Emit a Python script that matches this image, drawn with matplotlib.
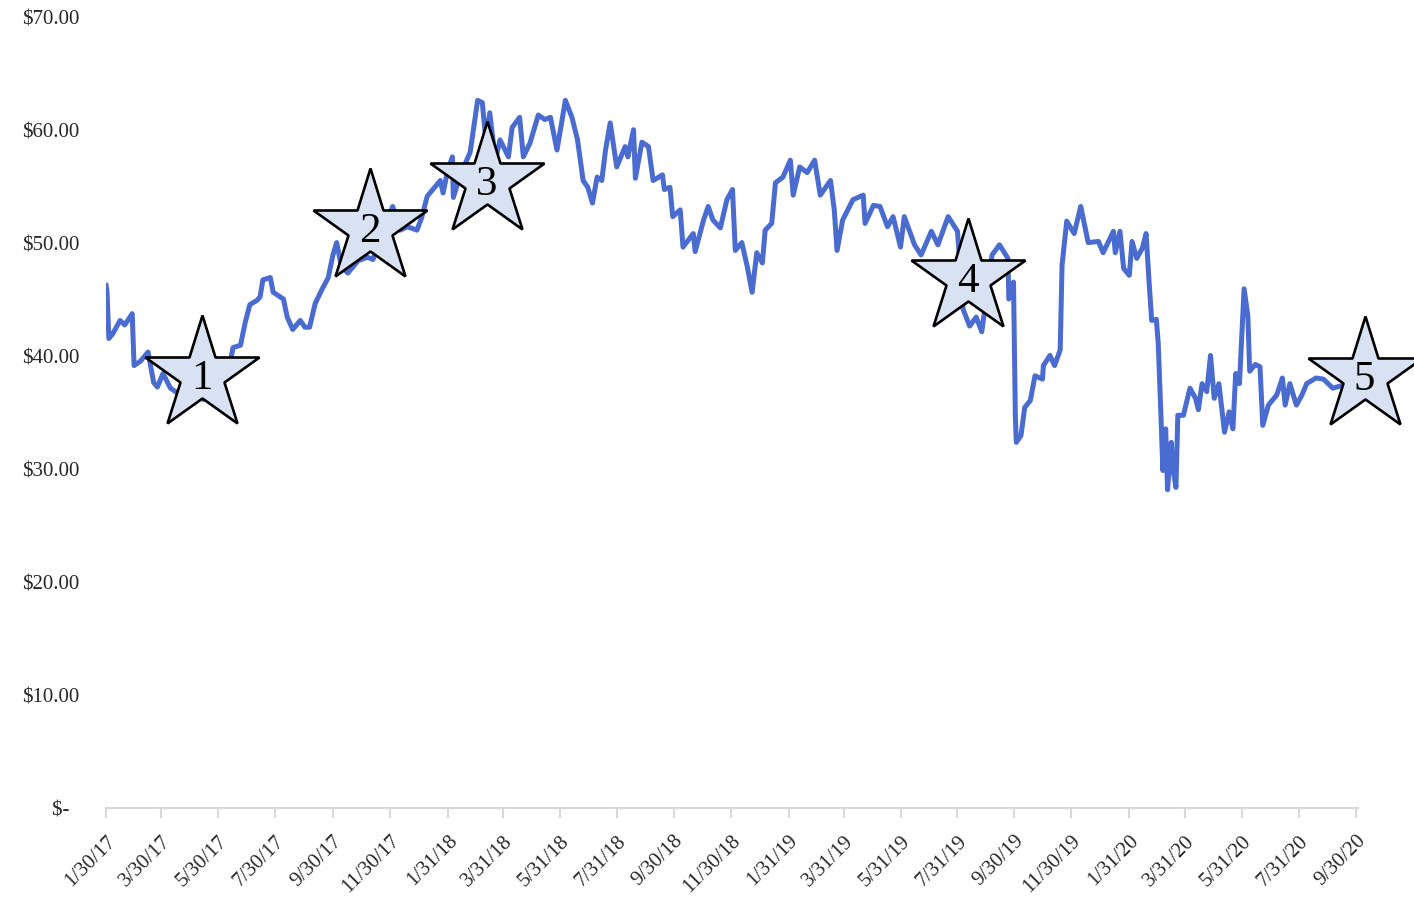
import matplotlib
matplotlib.use("Agg")
import matplotlib.pyplot as plt
from matplotlib.ticker import FuncFormatter
import pandas as pd

dates = [
    "2017-01-30", "2017-01-31", "2017-02-02", "2017-02-06", "2017-02-14", "2017-02-19", "2017-02-27",
    "2017-03-01", "2017-03-08", "2017-03-16", "2017-03-22", "2017-03-26", "2017-04-01", "2017-04-09",
    "2017-04-16", "2017-04-30", "2017-05-14", "2017-05-27", "2017-06-09", "2017-06-15", "2017-06-23",
    "2017-06-28", "2017-07-03", "2017-07-11", "2017-07-14", "2017-07-17", "2017-07-25", "2017-07-28",
    "2017-08-08", "2017-08-12", "2017-08-18", "2017-08-26", "2017-08-31", "2017-09-05", "2017-09-11",
    "2017-09-18", "2017-09-25", "2017-09-30", "2017-10-04", "2017-10-09", "2017-10-16", "2017-10-27",
    "2017-11-06", "2017-11-12", "2017-11-19", "2017-11-27", "2017-12-03", "2017-12-11", "2017-12-19",
    "2017-12-29", "2018-01-03", "2018-01-09", "2018-01-15", "2018-01-23", "2018-01-26", "2018-01-31",
    "2018-02-05", "2018-02-06", "2018-02-13", "2018-02-24", "2018-03-04", "2018-03-09", "2018-03-13",
    "2018-03-17", "2018-03-23", "2018-03-28", "2018-04-06", "2018-04-10", "2018-04-18", "2018-04-22",
    "2018-04-29", "2018-05-08", "2018-05-15", "2018-05-21", "2018-05-28", "2018-06-06", "2018-06-13",
    "2018-06-19", "2018-06-25", "2018-06-30", "2018-07-05", "2018-07-10", "2018-07-15", "2018-07-19",
    "2018-07-24", "2018-07-31", "2018-08-09", "2018-08-12", "2018-08-18", "2018-08-20", "2018-08-27",
    "2018-09-03", "2018-09-08", "2018-09-18", "2018-09-20", "2018-09-26", "2018-09-29", "2018-10-07",
    "2018-10-10", "2018-10-21", "2018-10-23", "2018-11-01", "2018-11-06", "2018-11-11", "2018-11-19",
    "2018-11-26", "2018-12-02", "2018-12-05", "2018-12-12", "2018-12-18", "2018-12-23", "2018-12-28",
    "2019-01-03", "2019-01-06", "2019-01-13", "2019-01-17", "2019-01-25", "2019-02-02", "2019-02-05",
    "2019-02-12", "2019-02-20", "2019-02-28", "2019-03-06", "2019-03-17", "2019-03-21", "2019-03-24",
    "2019-03-30", "2019-04-10", "2019-04-21", "2019-04-23", "2019-05-02", "2019-05-09", "2019-05-17",
    "2019-05-23", "2019-05-31", "2019-06-04", "2019-06-15", "2019-06-22", "2019-07-03", "2019-07-10",
    "2019-07-21", "2019-07-31", "2019-08-06", "2019-08-13", "2019-08-20", "2019-08-26", "2019-09-06",
    "2019-09-14", "2019-09-23", "2019-09-24", "2019-09-29", "2019-10-01", "2019-10-02", "2019-10-07",
    "2019-10-11", "2019-10-17", "2019-10-22", "2019-10-30", "2019-10-31", "2019-11-07", "2019-11-12",
    "2019-11-18", "2019-11-20", "2019-11-25", "2019-12-03", "2019-12-10", "2019-12-14", "2019-12-18",
    "2019-12-29", "2020-01-03", "2020-01-14", "2020-01-16", "2020-01-21", "2020-01-25", "2020-01-31",
    "2020-02-03", "2020-02-08", "2020-02-14", "2020-02-18", "2020-02-21", "2020-02-24", "2020-02-29",
    "2020-03-02", "2020-03-05", "2020-03-07", "2020-03-10", "2020-03-12", "2020-03-16", "2020-03-18",
    "2020-03-21", "2020-03-23", "2020-03-29", "2020-04-05", "2020-04-11", "2020-04-14", "2020-04-18",
    "2020-04-23", "2020-04-27", "2020-05-01", "2020-05-06", "2020-05-12", "2020-05-17", "2020-05-21",
    "2020-05-24", "2020-05-28", "2020-06-02", "2020-06-06", "2020-06-08", "2020-06-14", "2020-06-19",
    "2020-06-22", "2020-06-28", "2020-07-07", "2020-07-13", "2020-07-16", "2020-07-21", "2020-07-28",
    "2020-08-03", "2020-08-08", "2020-08-18", "2020-08-26", "2020-09-05", "2020-09-18", "2020-09-26",
]

prices = [
    46.3, 45.8, 41.6, 42.0, 43.2, 42.8, 43.8,
    39.2, 39.6, 40.4, 37.7, 37.3, 38.5, 37.2,
    36.8, 37.5, 36.2, 36.8, 38.2, 40.8, 41.0,
    43.0, 44.6, 45.0, 45.3, 46.8, 47.0, 45.7,
    45.1, 43.5, 42.4, 43.2, 42.6, 42.6, 44.7,
    45.9, 47.0, 49.0, 50.1, 48.0, 47.4, 48.5,
    48.8, 48.6, 50.5, 52.0, 53.3, 51.2, 51.5,
    51.2, 52.3, 54.2, 54.8, 55.6, 54.5, 56.5,
    57.7, 54.1, 56.0, 58.1, 62.7, 62.5, 59.0,
    61.6, 57.4, 59.2, 57.7, 60.3, 61.2, 57.7,
    58.9, 61.4, 61.0, 61.2, 58.3, 62.7, 61.2,
    59.2, 55.6, 55.0, 53.6, 55.9, 55.6, 58.3,
    60.7, 56.8, 58.6, 57.7, 60.1, 55.8, 59.0,
    58.6, 55.6, 56.1, 54.8, 55.0, 52.4, 53.0,
    49.7, 50.9, 49.3, 52.1, 53.3, 52.1, 51.4,
    53.9, 54.8, 49.4, 50.1, 47.9, 45.7, 49.2,
    48.3, 51.2, 51.8, 55.4, 55.9, 57.4, 54.3,
    56.8, 56.3, 57.4, 54.3, 55.6, 53.0, 49.4,
    52.1, 53.9, 54.3, 51.8, 53.4, 53.3, 51.5,
    52.4, 49.7, 52.4, 49.9, 49.0, 51.1, 49.9,
    52.4, 51.1, 44.2, 42.7, 43.5, 42.2, 49.0,
    49.9, 48.7, 45.1, 46.6, 34.6, 32.4, 33.0,
    35.5, 36.1, 38.3, 38.0, 39.2, 40.1, 39.2,
    40.6, 48.1, 52.0, 50.9, 53.3, 51.7, 50.1,
    50.2, 49.2, 51.1, 49.2, 51.1, 47.8, 47.2,
    50.2, 48.7, 49.6, 50.9, 46.9, 43.2, 43.3,
    41.2, 34.6, 29.9, 33.6, 28.2, 32.4, 30.0,
    28.4, 34.8, 34.8, 37.2, 36.3, 35.3, 37.6,
    36.9, 40.1, 36.3, 37.6, 33.3, 35.1, 33.6,
    38.5, 37.6, 46.0, 43.6, 38.7, 39.3, 39.1,
    33.9, 35.7, 36.6, 38.1, 35.7, 37.6, 35.7,
    36.6, 37.6, 38.1, 38.0, 37.2, 37.5, 37.8,
]

star_dates = ["2017-05-13", "2017-11-09", "2018-03-14", "2019-08-11", "2020-10-09"]
star_values = [38.4, 51.4, 55.6, 47.0, 38.3]
star_labels = ["1", "2", "3", "4", "5"]

tick_dates = ["2017-01-30", "2017-03-30", "2017-05-30", "2017-07-30", "2017-09-30", "2017-11-30",
              "2018-01-31", "2018-03-31", "2018-05-31", "2018-07-31", "2018-09-30", "2018-11-30",
              "2019-01-31", "2019-03-31", "2019-05-31", "2019-07-31", "2019-09-30", "2019-11-30",
              "2020-01-31", "2020-03-31", "2020-05-31", "2020-07-31", "2020-09-30"]
tick_labels = ["1/30/17", "3/30/17", "5/30/17", "7/30/17", "9/30/17", "11/30/17",
               "1/31/18", "3/31/18", "5/31/18", "7/31/18", "9/30/18", "11/30/18",
               "1/31/19", "3/31/19", "5/31/19", "7/31/19", "9/30/19", "11/30/19",
               "1/31/20", "3/31/20", "5/31/20", "7/31/20", "9/30/20"]
y_ticks = [0, 10, 20, 30, 40, 50, 60, 70]

plt.rcParams["font.family"] = ["Liberation Serif", "DejaVu Serif"]

fig = plt.figure(figsize=(14.14, 8.99), dpi=100)
ax = fig.add_axes([0.075, 0.1012, 0.8854, 0.8788])

x = pd.to_datetime(dates)
ax.plot(x, prices, color="#4A6BD0", linewidth=3.6, solid_joinstyle="round", zorder=2)

sx = pd.to_datetime(star_dates)
for d, v, lab in zip(sx, star_values, star_labels):
    ax.plot([d], [v], marker="*", markersize=86, markerfacecolor="#D9E2F3",
            markeredgecolor="black", markeredgewidth=1.9, clip_on=False, zorder=3)
    ax.annotate(lab, (d, v), xytext=(0, -3), textcoords="offset points",
                ha="center", va="center", fontsize=31, color="black",
                zorder=4, annotation_clip=False)

ax.set_ylim(0, 70)
ax.set_xlim(pd.Timestamp("2017-01-30"), pd.Timestamp("2020-10-02"))
ax.set_yticks(y_ticks)
ax.yaxis.set_major_formatter(FuncFormatter(lambda v, p: "$-  " if v == 0 else f"${v:.2f}"))
ax.set_xticks(pd.to_datetime(tick_dates))
ax.set_xticklabels(tick_labels, rotation=45, ha="right", rotation_mode="anchor")

for side in ["top", "right", "left"]:
    ax.spines[side].set_visible(False)
ax.spines["bottom"].set_color("#D9D9D9")
ax.spines["bottom"].set_linewidth(1.5)
ax.tick_params(axis="x", colors="#D9D9D9", length=7, width=1.5, pad=10, labelcolor="#262626",
               labelsize=15)
ax.tick_params(axis="y", length=0, pad=19, labelcolor="#262626", labelsize=15)

fig.savefig("out.png", dpi=100)
